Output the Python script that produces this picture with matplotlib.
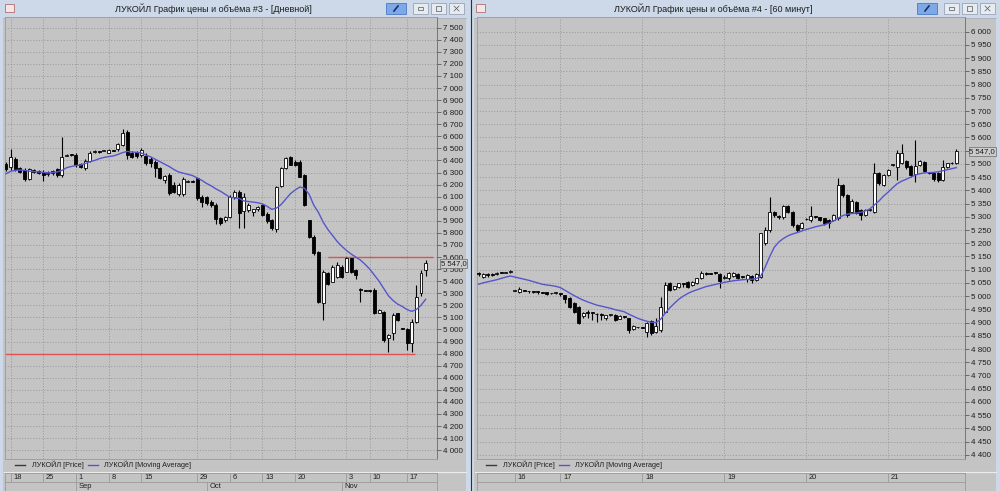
import numpy as np
import matplotlib.pyplot as plt
from matplotlib import font_manager
from matplotlib.patches import Rectangle
from matplotlib.colors import LinearSegmentedColormap

# ---------------- data: daily chart (left window) ----------------
d_open = [6371, 6349, 6409, 6335, 6321, 6249, 6321, 6315, 6307, 6285, 6293, 6327, 6280, 6440, 6447,
          6445, 6370, 6335, 6398, 6472, 6475, 6480, 6465, 6482, 6492, 6528, 6639, 6465, 6473, 6445,
          6437, 6409, 6390, 6335, 6238, 6280, 6197, 6122, 6122, 6224, 6227, 6252, 6100, 6094, 6059,
          6031, 5920, 5907, 5934, 6094, 6141, 5980, 5990, 5975, 5995, 6030, 5960, 5905, 5830, 6185,
          6335, 6430, 6390, 6390, 6280, 5905, 5770, 5645, 5216, 5465, 5395, 5437, 5520, 5480, 5590,
          5495, 5330, 5322, 5322, 5327, 5140, 5147, 4926, 4967, 5133, 5010, 5001, 4885, 5064, 5299, 5492]
d_high = [6390, 6492, 6426, 6350, 6335, 6340, 6330, 6320, 6320, 6310, 6325, 6340, 6597, 6453, 6453,
          6460, 6382, 6410, 6480, 6487, 6480, 6490, 6498, 6487, 6548, 6658, 6652, 6480, 6480, 6500,
          6460, 6426, 6404, 6349, 6280, 6293, 6224, 6216, 6260, 6235, 6235, 6266, 6114, 6105, 6072,
          6045, 5928, 5940, 6114, 6155, 6155, 6130, 6050, 6000, 6025, 6040, 5970, 5915, 6190, 6350,
          6430, 6440, 6405, 6400, 6290, 5910, 5780, 5650, 5490, 5475, 5530, 5555, 5530, 5603, 5595,
          5500, 5340, 5330, 5330, 5340, 5170, 5155, 4965, 5140, 5140, 5015, 5010, 5090, 5370, 5490, 5575]
d_low = [6315, 6321, 6315, 6293, 6233, 6238, 6293, 6288, 6233, 6270, 6280, 6260, 6266, 6436, 6436,
         6349, 6335, 6321, 6390, 6465, 6465, 6475, 6459, 6475, 6481, 6520, 6409, 6418, 6418, 6431,
         6362, 6343, 6266, 6244, 6216, 6114, 6128, 6106, 6106, 6218, 6218, 6072, 6012, 6031, 6017,
         5874, 5865, 5893, 5920, 6078, 5838, 5840, 5975, 5940, 5985, 5940, 5880, 5825, 5810, 6180,
         6330, 6360, 6355, 6260, 6020, 5760, 5620, 5220, 5080, 5370, 5390, 5430, 5430, 5475, 5470,
         5415, 5230, 5315, 5312, 5130, 5135, 4900, 4810, 4910, 5070, 5000, 4830, 4815, 5050, 5280, 5440]
d_close = [6326, 6426, 6327, 6307, 6244, 6327, 6304, 6299, 6280, 6299, 6315, 6280, 6431, 6447, 6442,
           6362, 6349, 6396, 6465, 6475, 6472, 6482, 6487, 6480, 6536, 6625, 6445, 6432, 6437, 6487,
           6376, 6382, 6335, 6252, 6271, 6133, 6141, 6197, 6244, 6227, 6224, 6086, 6059, 6050, 6031,
           5912, 5879, 5929, 6100, 6141, 5962, 6100, 6030, 5995, 6015, 5950, 5895, 5840, 6180, 6335,
           6420, 6365, 6362, 6265, 6030, 5770, 5630, 5230, 5480, 5380, 5520, 5534, 5437, 5590, 5480,
           5450, 5325, 5320, 5318, 5135, 5160, 4912, 4955, 5120, 5078, 5005, 4890, 5064, 5271, 5470, 5547]
d_ma = [6290, 6310, 6318, 6320, 6318, 6312, 6308, 6305, 6300, 6298, 6300, 6305, 6318, 6340, 6350,
        6358, 6362, 6375, 6390, 6400, 6415, 6425, 6432, 6437, 6450, 6465, 6475, 6470, 6467, 6462,
        6445, 6430, 6410, 6390, 6370, 6350, 6325, 6305, 6295, 6285, 6275, 6255, 6235, 6210, 6190,
        6165, 6145, 6120, 6095, 6090, 6085, 6065, 6060, 6055, 6050, 6040, 6020, 5995, 6005, 6035,
        6080, 6125, 6155, 6180, 6170, 6120, 6030, 5970, 5890, 5830, 5780, 5730, 5690, 5655, 5625,
        5600, 5575, 5540, 5500, 5450, 5400, 5340, 5280, 5240, 5210, 5190, 5165, 5150, 5165, 5200, 5250]
d_week_pos = [1, 8, 15, 22, 29, 41, 48, 55, 62, 73, 78, 86]
d_week_lab = ['18', '25', '1', '8', '15', '29', '6', '13', '20', '3', '10', '17']
d_month_pos = [15, 43, 72]
d_month_lab = ['Sep', 'Oct', 'Nov']
d_levels = [(5600, 69, 91.6), (4800, -0.2, 87.7)]   # price, from, to

# ---------------- data: 60 min chart (right window) ----------------
h_open = [5088, 5074, 5084, 5084, 5082, 5089, 5089, 5090,
          5021, 5015, 5022, 5019, 5019, 5018, 5014, 5014, 5011, 5011,
          5009, 5004, 4992, 4973, 4960, 4925, 4937, 4938, 4933, 4930, 4918, 4929, 4929, 4915, 4922, 4916, 4877, 4882,
          4882, 4866, 4907, 4866, 4872, 4941, 5048, 5026, 5033, 5048, 5055, 5042, 5048, 5067, 5089, 5086, 5088, 5084,
          5070, 5067, 5076, 5084, 5074, 5064, 5077, 5061, 5073, 5200, 5250, 5319, 5303, 5298, 5341, 5319, 5269, 5256,
          5290, 5288, 5300, 5298, 5294, 5288, 5288, 5294, 5420, 5382, 5319, 5357, 5326, 5307, 5326, 5319, 5467, 5420,
          5458, 5496, 5489, 5502, 5512, 5492, 5462, 5496, 5508, 5467, 5467, 5467, 5439, 5489, 5502, 5502]
h_high = [5092, 5089, 5086, 5086, 5091, 5091, 5092, 5098,
          5024, 5033, 5024, 5021, 5021, 5020, 5016, 5016, 5013, 5014,
          5012, 5006, 4995, 4976, 4962, 4941, 4948, 4940, 4935, 4935, 4930, 4932, 4932, 4928, 4925, 4918, 4890, 4885,
          4884, 4903, 4910, 4916, 4998, 5055, 5055, 5040, 5050, 5050, 5058, 5058, 5070, 5096, 5092, 5088, 5090, 5086,
          5078, 5090, 5092, 5088, 5077, 5084, 5080, 5086, 5240, 5263, 5376, 5322, 5308, 5345, 5345, 5322, 5272, 5282,
          5294, 5341, 5303, 5301, 5297, 5290, 5310, 5445, 5424, 5386, 5366, 5360, 5330, 5330, 5330, 5502, 5470, 5462,
          5480, 5500, 5553, 5575, 5515, 5496, 5590, 5515, 5512, 5470, 5470, 5470, 5515, 5505, 5506, 5555]
h_low = [5076, 5067, 5074, 5076, 5080, 5086, 5087, 5088,
         5019, 5010, 5018, 5010, 5010, 5008, 5010, 5004, 5008, 5008,
         5000, 4973, 4954, 4935, 4894, 4916, 4916, 4910, 4903, 4910, 4910, 4926, 4906, 4912, 4918, 4862, 4873, 4879,
         4878, 4847, 4853, 4859, 4866, 4935, 5020, 5023, 5030, 5033, 5030, 5040, 5045, 5063, 5080, 5083, 5085, 5029,
         5066, 5062, 5072, 5064, 5070, 5054, 5050, 5058, 5070, 5193, 5244, 5300, 5290, 5292, 5315, 5262, 5244, 5252,
         5287, 5282, 5296, 5285, 5270, 5256, 5284, 5288, 5376, 5300, 5313, 5310, 5288, 5303, 5322, 5313, 5420, 5415,
         5454, 5492, 5439, 5498, 5482, 5452, 5433, 5492, 5468, 5462, 5436, 5433, 5436, 5485, 5499, 5498]
h_close = [5082, 5084, 5080, 5080, 5089, 5088, 5090, 5096,
           5022, 5026, 5021, 5018, 5017, 5016, 5013, 5007, 5010, 5012,
           5007, 4988, 4960, 4941, 4897, 4935, 4936, 4936, 4931, 4929, 4928, 4930, 4910, 4925, 4921, 4872, 4887, 4883,
           4881, 4897, 4859, 4887, 4960, 5042, 5023, 5038, 5048, 5047, 5033, 5055, 5067, 5089, 5084, 5085, 5087, 5058,
           5074, 5086, 5088, 5067, 5073, 5080, 5061, 5083, 5237, 5250, 5319, 5307, 5298, 5341, 5319, 5269, 5250, 5278,
           5291, 5303, 5299, 5288, 5275, 5275, 5307, 5420, 5382, 5307, 5361, 5316, 5307, 5326, 5327, 5464, 5426, 5458,
           5477, 5497, 5540, 5540, 5487, 5458, 5492, 5512, 5474, 5466, 5442, 5439, 5487, 5502, 5503, 5547]
h_ma = [5045, 5050, 5054, 5058, 5062, 5067, 5072, 5076,
        5072, 5068, 5064, 5060, 5055, 5050, 5045, 5042, 5040, 5037,
        5032, 5022, 5012, 5002, 4993, 4985, 4978, 4972, 4966, 4962, 4958, 4954, 4949, 4945, 4941, 4932, 4924, 4916,
        4910, 4905, 4901, 4900, 4912, 4935, 4955, 4972, 4988, 5000, 5010, 5018, 5024, 5030, 5036, 5040, 5044, 5048,
        5052, 5055, 5058, 5060, 5062, 5063, 5064, 5066, 5075, 5110, 5150, 5185, 5205, 5218, 5228, 5235, 5240, 5246,
        5252, 5257, 5262, 5266, 5270, 5276, 5284, 5295, 5304, 5310, 5312, 5314, 5317, 5322, 5330, 5345, 5360, 5378,
        5393, 5410, 5425, 5435, 5442, 5450, 5458, 5463, 5466, 5467, 5468, 5470, 5474, 5478, 5482, 5486]
h_day_pos = [8, 18, 36, 54, 72, 90]
h_day_lab = ['16', '17', '18', '19', '20', '21']

last_price = 5547.0

names = {f.name for f in font_manager.fontManager.ttflist}
NARROW = 'Liberation Sans Narrow' if 'Liberation Sans Narrow' in names else 'Liberation Sans'
plt.rcParams['font.family'] = ['Liberation Sans', 'DejaVu Sans']

W, H = 1000, 491
fig = plt.figure(figsize=(W / 100, H / 100), dpi=100)
fig.patch.set_facecolor('#cbd8e8')

CHART_BG = '#c4c4c4'
GRID = '#8a8a8a'
MA_COL = '#5656cc'
RED = '#e05252'


def px_axes(x0, y0, x1, y1):
    return fig.add_axes([x0 / W, 1 - y1 / H, (x1 - x0) / W, (y1 - y0) / H])


bg = px_axes(0, 0, W, H)
bg.axis('off')
title_cmap = LinearSegmentedColormap.from_list('tb', ['#e9eff7', '#d2ddea'])


def window(x0, x1, title, btn_x):
    bg.add_patch(Rectangle((x0, 0), x1 - x0, H, fc='#cdd9e9', ec='none'))
    bg.imshow(np.linspace(0, 1, 18)[:, None], extent=(x0, x1, 18, 0), cmap=title_cmap, aspect='auto')
    bg.add_patch(Rectangle((x0 + 3, 18), x1 - x0 - 7, H - 18, fc=CHART_BG, ec='none'))
    bg.plot([x0 + 3, x1 - 4], [18, 18], color='#a8b2be', lw=0.6)
    bg.text((x0 + x1) / 2 - 22, 9, title, fontsize=6.5, ha='center', va='center', color='#1c1c1c')
    # window icon
    bg.add_patch(Rectangle((x0 + 5, 4), 9, 8, fc='#f2e6e6', ec='#b07070', lw=0.6))
    # pin button (blue) + three system buttons
    bx = btn_x
    bg.add_patch(Rectangle((bx, 3), 20, 11, fc='#7ea9e8', ec='#4c78c2', lw=0.6))
    bg.plot([bx + 8, bx + 12], [11, 6], color='#1a2f66', lw=1.2)
    for k in range(3):
        gx = bx + 27 + k * 18
        bg.add_patch(Rectangle((gx, 3), 15, 11, fc='#e6ebf2', ec='#98a4b4', lw=0.6))
        if k == 0:
            bg.add_patch(Rectangle((gx + 5, 7), 5, 3, fc='none', ec='#555', lw=0.5))
        elif k == 1:
            bg.add_patch(Rectangle((gx + 5, 6), 5, 5, fc='none', ec='#555', lw=0.5))
        else:
            bg.plot([gx + 5, gx + 10], [6, 11], color='#555', lw=0.5)
            bg.plot([gx + 5, gx + 10], [11, 6], color='#555', lw=0.5)
    # white separator above the time axis
    bg.plot([x0 + 4, x1 - 4], [472, 472], color='#ececec', lw=0.8)


window(0, 470, 'ЛУКОЙЛ График цены и объёма #3 - [Дневной]', 386)
window(471, 1000, 'ЛУКОЙЛ График цены и объёма #4 - [60 минут]', 917)
bg.plot([470.5, 470.5], [0, H], color='#303030', lw=0.8)


def legend(x, y):
    bg.plot([x, x + 10], [y, y], color='#3a3a3a', lw=1)
    bg.text(x + 17, y, 'ЛУКОЙЛ [Price]', fontsize=5.2, family=NARROW, va='center', color='#202020')
    bg.plot([x + 73, x + 83], [y, y], color=MA_COL, lw=1)
    bg.text(x + 89, y, 'ЛУКОЙЛ [Moving Average]', fontsize=5.2, family=NARROW, va='center', color='#202020')


legend(15, 465)
legend(486, 465)
bg.set_xlim(0, W)
bg.set_ylim(H, 0)


def chart(box, o, h, l, c, ma, ylim, ticks, xlim, gx, bw, min_h):
    ax = px_axes(*box)
    ax.set_facecolor(CHART_BG)
    o, h, l, c = map(np.asarray, (o, h, l, c))
    idx = np.arange(len(o))
    step = ticks[1] - ticks[0]
    for t in ticks:
        ax.axhline(t, color=GRID, lw=0.5, ls=(0, (1.5, 2.5)), zorder=1)
    for t in gx:
        ax.axvline(t, color=GRID, lw=0.5, ls=(0, (1.5, 2.5)), zorder=1)
    ax.vlines(idx, l, h, color='black', lw=0.8, zorder=3)
    bottom = np.minimum(o, c)
    height = np.maximum(np.abs(c - o), min_h)
    colors = np.where(c >= o, 'white', 'black')
    ax.bar(idx, height, bw, bottom, color=colors, edgecolor='black', lw=0.6, zorder=4)
    ax.plot(idx, ma, color=MA_COL, lw=1, zorder=5)
    ax.set_xlim(*xlim)
    ax.set_ylim(*ylim)
    ax.set_xticks([])
    ax.yaxis.tick_right()
    ax.set_yticks(ticks)
    # the current-price box hides the tick label it sits on
    labels = ['' if abs(t - last_price) < step * 0.2 else f'{t:,}'.replace(',', ' ') for t in ticks]
    ax.set_yticklabels(labels, family=NARROW, fontsize=5.8)
    ax.tick_params(axis='y', length=3, width=0.6, color='#5a5a5a', pad=1.5, labelcolor='#1e1e1e')
    for s in ax.spines.values():
        s.set_color('#9a9a9a')
        s.set_linewidth(0.6)
    ax.spines['right'].set_color('#6a6a6a')
    ax.text(1.009, last_price, f'{last_price:,.1f}'.replace(',', ' ').replace('.', ','),
            transform=ax.get_yaxis_transform(), family=NARROW, fontsize=5.6, va='center', ha='left',
            color='#1e1e1e', zorder=6,
            bbox=dict(boxstyle='square,pad=0.1', fc='#cccccc', ec='#7a7a7a', lw=0.6))
    return ax


def time_axis(box, xlim, pos, labels, mpos=(), mlabels=()):
    ax = px_axes(*box)
    ax.set_facecolor(CHART_BG)
    ax.set_xlim(*xlim)
    ax.set_ylim(0, 2)
    ax.axhline(1, color='#9a9a9a', lw=0.6)
    ax.vlines(pos, 1, 2, color='#9a9a9a', lw=0.6)
    for p, s in zip(pos, labels):
        ax.text(p + 0.6, 1.5, s, fontsize=5.4, family=NARROW, va='center', ha='left', color='#1e1e1e')
    ax.vlines(mpos, 0, 1, color='#9a9a9a', lw=0.6)
    for p, s in zip(mpos, mlabels):
        ax.text(p + 0.6, 0.45, s, fontsize=5.4, family=NARROW, va='center', ha='left', color='#1e1e1e')
    ax.set_xticks([])
    ax.set_yticks([])
    for s in ax.spines.values():
        s.set_color('#9a9a9a')
        s.set_linewidth(0.6)
    return ax


d_xlim = (-0.214, 92.43)
axl = chart((5, 17, 437, 459), d_open, d_high, d_low, d_close, d_ma,
            (3926.7, 7588.6), list(range(4000, 7501, 100)), d_xlim, d_week_pos, 0.64, 8)
for price, a, b in d_levels:
    axl.hlines(price, a, b, color=RED, lw=1, zorder=2)
time_axis((5, 473, 437, 491), d_xlim, d_week_pos, d_week_lab, d_month_pos, d_month_lab)

h_xlim = (-0.33, 106.9)
axr = chart((477, 17, 965, 459), h_open, h_high, h_low, h_close, h_ma,
            (4384, 6055.6), list(range(4400, 6001, 50)), h_xlim, h_day_pos, 0.66, 3)
time_axis((477, 473, 965, 491), h_xlim, h_day_pos, h_day_lab)

fig.savefig('out.png', dpi=100, facecolor=fig.get_facecolor())
